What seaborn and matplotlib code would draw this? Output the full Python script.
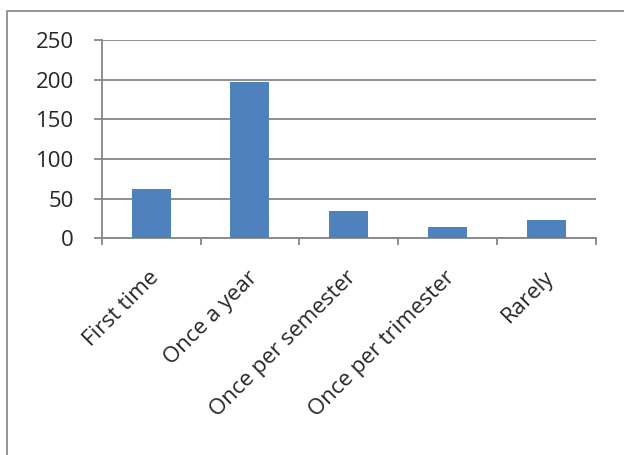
import matplotlib
matplotlib.use("Agg")
import matplotlib.pyplot as plt
import seaborn as sns
import pandas as pd
from matplotlib.patches import Rectangle

categories = ["First time", "Once a year", "Once per semester",
              "Once per trimester", "Rarely"]
counts = [62, 197, 34, 14, 23]
y_ticks = [0, 50, 100, 150, 200, 250]

df = pd.DataFrame({"category": categories, "count": counts})

sns.set_style("white")
plt.rcParams['font.family'] = ['Open Sans', 'DejaVu Sans']

grey = '#868686'
fig = plt.figure(figsize=(6.24, 4.55), dpi=100)
ax = fig.add_axes([0.163, 0.4763, 0.792, 0.4358])

sns.barplot(data=df, x="category", y="count", color='#4F81BD',
            saturation=1, width=0.395, linewidth=0, ax=ax, zorder=3)

ax.set_ylim(0, 250)
ax.set_xlim(-0.5, len(categories) - 0.5)
ax.set_yticks(y_ticks)
ax.set_yticklabels([str(v) for v in y_ticks], fontsize=16)
ax.yaxis.grid(True, color=grey, linewidth=1.3, zorder=0)
ax.set_axisbelow(True)

# ticks at category boundaries like Excel
ax.set_xticks([i - 0.5 for i in range(len(categories) + 1)])
ax.set_xticklabels([])
ax.tick_params(axis='x', bottom=True, length=5, width=1.3, color=grey, direction='out')
ax.tick_params(axis='y', left=True, length=6, width=1.3, color=grey, direction='out', pad=14)
ax.set_xlabel("")
ax.set_ylabel("")

for i, lab in enumerate(categories):
    ax.annotate(lab, xy=(i, 0), xycoords='data', xytext=(3, -26),
                textcoords='offset points', rotation=45, ha='right', va='center',
                rotation_mode='anchor', fontsize=16)

for side in ['top', 'right']:
    ax.spines[side].set_visible(False)
for side in ['left', 'bottom']:
    ax.spines[side].set_color(grey)
    ax.spines[side].set_linewidth(1.3)

# outer chart frame
fig.patches.append(Rectangle((6.5 / 624, -0.1), 1.2, 1 - 10.5 / 455 + 0.1,
                             transform=fig.transFigure, fill=False,
                             edgecolor='#8c8c8c', linewidth=1.3))

fig.savefig("out.png", dpi=100)
